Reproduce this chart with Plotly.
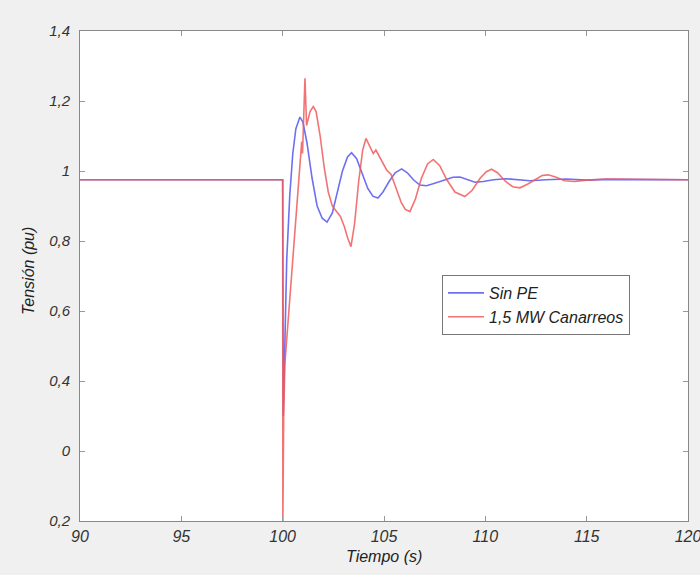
import plotly.graph_objects as go

# Sin PE (blue)
t_blue = [90, 100.0, 100.03, 100.1, 100.2, 100.35, 100.5, 100.65, 100.85, 101.0, 101.2, 101.45,
          101.7, 101.95, 102.19, 102.45, 102.7, 102.95, 103.2, 103.4, 103.65, 103.9, 104.2, 104.45,
          104.7, 104.95, 105.25, 105.55, 105.87, 106.15, 106.45, 106.77, 107.1, 107.5, 108.0, 108.4,
          108.75, 109.1, 109.49, 109.9, 110.4, 111.0, 111.6, 112.2, 113.0, 114.0, 115.0, 116.0, 120]
v_blue = [0.975, 0.975, 0.30, 0.50, 0.746, 0.93, 1.05, 1.12, 1.154, 1.14, 1.08, 0.98,
          0.90, 0.865, 0.854, 0.88, 0.94, 1.0, 1.04, 1.052, 1.035, 0.995, 0.95, 0.928,
          0.923, 0.94, 0.97, 0.995, 1.006, 0.995, 0.975, 0.96, 0.958, 0.965, 0.975, 0.982,
          0.983, 0.975, 0.968, 0.97, 0.975, 0.978, 0.975, 0.972, 0.975, 0.977, 0.974, 0.976, 0.975]

# 1,5 MW Canarreos (red)
t_red = [90, 100.0, 100.01, 100.05, 100.11, 100.3, 100.52, 100.7, 100.88, 100.94, 100.98, 101.04,
         101.10, 101.18, 101.25, 101.35, 101.51, 101.65, 101.85, 102.05, 102.25, 102.45, 102.66, 102.85,
         103.05, 103.2, 103.37, 103.55, 103.75, 103.95, 104.11, 104.3, 104.47, 104.6, 104.8, 105.0,
         105.13, 105.35, 105.6, 105.85, 106.05, 106.28, 106.55, 106.85, 107.15, 107.43, 107.75, 108.1,
         108.5, 108.99, 109.35, 109.75, 110.05, 110.31, 110.6, 111.0, 111.35, 111.71, 112.1, 112.5,
         112.8, 113.1, 113.5, 113.9, 114.4, 115.0, 116.0, 120]
v_red = [0.975, 0.975, 0.0, 0.30, 0.45, 0.60, 0.77, 0.92, 1.06, 1.084, 1.05, 1.15,
         1.265, 1.13, 1.15, 1.17, 1.184, 1.17, 1.10, 1.01, 0.94, 0.90, 0.884, 0.87,
         0.84, 0.81, 0.784, 0.85, 0.97, 1.06, 1.093, 1.07, 1.05, 1.06, 1.04, 1.02,
         1.003, 0.99, 0.95, 0.91, 0.89, 0.884, 0.92, 0.98, 1.02, 1.033, 1.015, 0.975,
         0.94, 0.927, 0.945, 0.98, 0.998, 1.005, 0.995, 0.97, 0.955, 0.952, 0.963, 0.978,
         0.987, 0.989, 0.982, 0.972, 0.97, 0.974, 0.977, 0.975]

x_ticks = [90, 95, 100, 105, 110, 115, 120]
y_tickvals = [0, 0.2, 0.4, 0.6, 0.8, 1.0, 1.2, 1.4]
y_ticktext = ["0,2", "0", "0,4", "0,6", "0,8", "1", "1,2", "1,4"]

font_family = "Liberation Sans, Arial, sans-serif"

fig = go.Figure()
fig.add_trace(go.Scatter(x=t_blue, y=v_blue, mode="lines", name="<i>Sin PE</i>",
                         line=dict(color="#6f6ff2", width=1.6)))
fig.add_trace(go.Scatter(x=t_red, y=v_red, mode="lines", name="<i>1,5 MW Canarreos</i>",
                         line=dict(color="rgba(240,90,90,0.85)", width=1.6)))

axis_common = dict(showline=True, linecolor="#888888", linewidth=1, mirror="ticks",
                   ticks="inside", ticklen=5, tickcolor="#999999", showgrid=False,
                   zeroline=False, automargin=False, ticklabeloverflow="allow")

fig.update_layout(
    width=700, height=575,
    margin=dict(l=80, r=12, t=31, b=54, autoexpand=False),
    paper_bgcolor="#f0f0f0", plot_bgcolor="#ffffff",
    showlegend=True,
    legend=dict(x=(442 - 80) / 608, y=(521 - 275) / 490, xanchor="left", yanchor="top",
                bgcolor="#ffffff", bordercolor="#777777", borderwidth=1,
                font=dict(family=font_family, size=16, color="#222222"),
                tracegroupgap=0, itemwidth=36),
    xaxis=dict(range=[90, 120], tickvals=x_ticks, ticktext=[str(v) for v in x_ticks],
               ticklabelstandoff=1,
               tickfont=dict(family=font_family, size=16, color="#333333", style="italic"),
               **axis_common),
    yaxis=dict(range=[0, 1.4], tickvals=y_tickvals, ticktext=y_ticktext,
               ticklabelstandoff=6,
               tickfont=dict(family=font_family, size=15, color="#333333", style="italic"),
               **axis_common),
)

fig.add_annotation(text="<i>Tiempo (s)</i>", xref="paper", yref="paper",
                   x=0.5, y=-0.052, xanchor="center", yanchor="top", showarrow=False,
                   font=dict(family=font_family, size=16, color="#222222"))
fig.add_annotation(text="<i>Tensión (pu)</i>", xref="paper", yref="paper",
                   x=(28 - 80) / 608, y=(521 - 271) / 490, xanchor="center", yanchor="middle",
                   showarrow=False, textangle=-90,
                   font=dict(family=font_family, size=16, color="#222222"))

fig.write_html("out.html", config={"displayModeBar": False},
               post_script="document.body.style.margin='0px';")
